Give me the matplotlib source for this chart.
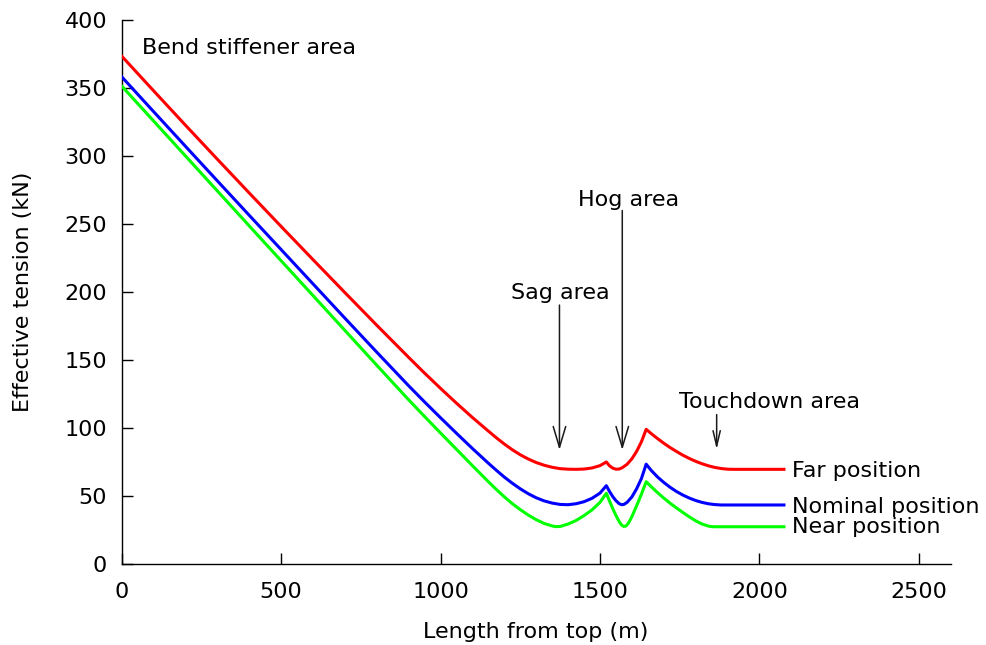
import matplotlib
matplotlib.use("Agg")
import matplotlib.pyplot as plt

# Effective tension along the riser for three vessel positions
far_x = [0, 100, 200, 300, 400, 500, 600, 700, 800, 900, 950, 1000, 1050, 1100,
         1150, 1175, 1200, 1225, 1250, 1275, 1300, 1325, 1350, 1375, 1400, 1425,
         1450, 1475, 1500, 1520,
         1530, 1540, 1550, 1560, 1570, 1585, 1600, 1615, 1630, 1645,
         1660, 1680, 1700, 1720, 1740, 1760, 1780, 1800, 1820, 1840, 1860,
         1880, 1900, 1920, 2077]
far_y = [373.5, 348.0, 322.7, 297.7, 272.9, 248.3, 223.9, 199.7, 175.7, 152.1,
         140.5, 129.3, 118.4, 107.9, 97.9, 93.0, 88.4, 84.2, 80.5, 77.4, 74.8,
         72.8, 71.3, 70.3, 69.9, 69.8,
         70.0, 70.8, 72.5, 75.2,
         72.4, 70.7, 69.9, 70.0, 71.0, 73.5, 77.5, 83.0, 90.0, 99.2,
         96.2, 92.5, 89.0, 85.8, 82.9, 80.2, 77.8, 75.7, 73.9, 72.4, 71.2,
         70.4, 69.9, 69.8, 69.8]

nominal_x = [0, 100, 200, 300, 400, 500, 600, 700, 800, 900, 950, 1000, 1050, 1100,
             1150, 1175, 1200, 1225, 1250, 1275, 1300, 1325, 1350, 1375, 1400,
             1425, 1450, 1475, 1500, 1520,
             1530, 1540, 1550, 1560, 1568, 1575, 1585, 1600, 1615, 1630, 1645,
             1660, 1680, 1700, 1720, 1740, 1760, 1780, 1800, 1820, 1840, 1860,
             1880, 2077]
nominal_y = [358.3, 332.7, 307.2, 281.8, 256.5, 231.3, 206.1, 180.9, 155.9, 131.2,
             119.3, 107.7, 96.3, 85.1, 74.3, 69.1, 64.1, 59.6, 55.5, 51.9, 48.9,
             46.6, 45.0, 44.0, 43.8,
             44.5, 46.0, 48.5, 52.3, 57.8,
             53.5, 49.8, 46.8, 44.6, 43.8, 44.0, 45.5, 49.5, 55.5, 63.0, 73.6,
             69.2, 64.3, 60.2, 56.6, 53.5, 50.9, 48.7, 46.9, 45.5, 44.5, 43.9,
             43.6, 43.6]

near_x = [0, 100, 200, 300, 400, 500, 600, 700, 800, 900, 950, 1000, 1050, 1100,
          1150, 1175, 1200, 1225, 1250, 1275, 1300, 1325, 1350, 1360, 1375, 1400,
          1425, 1450, 1475, 1500, 1520,
          1530, 1540, 1550, 1560, 1568, 1575, 1582, 1590, 1600, 1615, 1630, 1645,
          1660, 1680, 1700, 1720, 1740, 1760, 1780, 1800, 1820, 1840, 1850, 1860,
          2077]
near_y = [351.5, 325.8, 300.1, 274.4, 248.7, 223.1, 197.5, 171.9, 146.3, 120.9,
          108.6, 96.5, 84.5, 72.5, 60.7, 55.0, 49.6, 44.6, 40.2, 36.2, 32.8, 30.0,
          28.2, 27.7, 27.8, 29.6,
          32.2, 35.8, 40.0, 45.5, 52.2,
          46.5, 41.0, 36.0, 31.5, 28.8, 27.8, 28.2, 30.5, 35.0, 43.0, 51.5, 60.7,
          57.2, 52.8, 48.7, 44.9, 41.4, 38.1, 34.9, 32.0, 29.6, 28.1, 27.7, 27.6,
          27.6]

series_names = ["Far position", "Nominal position", "Near position"]
series_colors = ["#ff0000", "#0000ff", "#00ff00"]
series_label_y = [64.4, 37.9, 22.8]

x_ticks = [0, 500, 1000, 1500, 2000, 2500]
y_ticks = [0, 50, 100, 150, 200, 250, 300, 350, 400]

FS = 16
plt.rcParams["font.family"] = ["DejaVu Sans"]

fig = plt.figure(figsize=(9.86, 6.45), dpi=100)
ax = fig.add_axes([0.1234, 0.1251, 0.8408, 0.8439])

for xs, ys, color in zip([far_x, nominal_x, near_x],
                         [far_y, nominal_y, near_y], series_colors):
    ax.plot(xs, ys, color=color, lw=2.2, solid_joinstyle="round", zorder=3)

for name, ly in zip(series_names, series_label_y):
    ax.text(2103, ly, name, fontsize=FS, ha="left", va="baseline")

# Region annotations
ax.text(62.8, 374.8, "Bend stiffener area", fontsize=FS, ha="left", va="baseline")
ax.text(1376, 194.7, "Sag area", fontsize=FS, ha="center", va="baseline")
ax.text(1590, 263.5, "Hog area", fontsize=FS, ha="center", va="baseline")
ax.text(2032, 114.6, "Touchdown area", fontsize=FS, ha="center", va="baseline")

big_head = dict(arrowstyle="->,head_length=15,head_width=4.5", mutation_scale=1,
                color="#1a1a1a", lw=1.1, shrinkA=0, shrinkB=0)
small_head = dict(arrowstyle="->,head_length=11,head_width=2.6", mutation_scale=1,
                  color="#1a1a1a", lw=1.1, shrinkA=0, shrinkB=0)
ax.annotate("", xy=(1373, 84), xytext=(1373, 190.5), arrowprops=big_head)
ax.annotate("", xy=(1570, 84), xytext=(1570, 260), arrowprops=big_head)
ax.annotate("", xy=(1866, 84.5), xytext=(1866, 110), arrowprops=small_head)

ax.set_xlim(0, 2600)
ax.set_ylim(0, 400)
ax.set_xticks(x_ticks)
ax.set_yticks(y_ticks)
ax.spines["top"].set_visible(False)
ax.spines["right"].set_visible(False)
for s in ("left", "bottom"):
    ax.spines[s].set_linewidth(1.0)
ax.tick_params(axis="both", direction="in", length=8, width=1.0, labelsize=FS)
ax.tick_params(axis="x", pad=13)
ax.tick_params(axis="y", pad=10.5)

ax.set_xlabel("Length from top (m)", fontsize=FS, labelpad=14)
ax.set_ylabel("Effective tension (kN)", fontsize=FS, labelpad=23)

fig.savefig("out.png", dpi=100)
